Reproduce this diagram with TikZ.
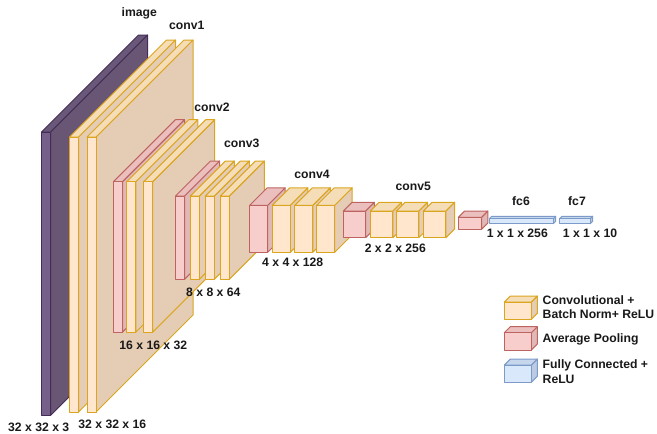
\documentclass[tikz,border=0pt]{standalone}
\usepackage{fontspec}
\setmainfont{Liberation Sans}
\definecolor{convfront}{HTML}{FFE6CC}
\definecolor{convtop}{HTML}{F5DDB8}
\definecolor{convside}{HTML}{E5CDB5}
\definecolor{convline}{HTML}{DBA520}
\definecolor{poolfront}{HTML}{F8CECC}
\definecolor{pooltop}{HTML}{EBBFBD}
\definecolor{poolside}{HTML}{E0B8B6}
\definecolor{poolline}{HTML}{BE6460}
\definecolor{fcfront}{HTML}{DAE8FC}
\definecolor{fctop}{HTML}{C6D6EC}
\definecolor{fcside}{HTML}{BCCBE2}
\definecolor{fcline}{HTML}{7C9BC8}
\definecolor{imgfront}{HTML}{76608A}
\definecolor{imgtop}{HTML}{6A5878}
\definecolor{imgside}{HTML}{685674}
\definecolor{imgline}{HTML}{432D57}
\tikzset{
    size/.style={font=\bfseries\fontsize{12.2}{14}\selectfont, text=black!90, inner sep=0pt},
    legend/.style={font=\bfseries\fontsize{12.2}{14.6}\selectfont, text=black!90, inner sep=0pt, anchor=west, align=left},
}
% #1 colour prefix, #2 left, #3 top, #4 width, #5 height, #6 depth
\newcommand{\layerbox}[6]{
    \draw[#1line, fill=#1side, line width=1pt, line join=round]
        (#2+#4,#3) -- ++(#6,-#6) -- ++(0,#5) -- ++(-#6,#6) -- cycle;
    \draw[#1line, fill=#1top, line width=1pt, line join=round]
        (#2,#3) -- ++(#6,-#6) -- ++(#4,0) -- ++(-#6,#6) -- cycle;
    \draw[#1line, fill=#1front, line width=1pt, line join=round]
        (#2,#3) rectangle ++(#4,#5);
}
\begin{document}
\begin{tikzpicture}[x=1pt, y=-1pt]
    \useasboundingbox (0,0) rectangle (657,434);

    \layerbox{img}{41.5}{132}{9}{283.5}{97}
    \foreach \xpos in {69.5, 87} {
        \layerbox{conv}{\xpos}{137}{9}{275}{97}
    }

    \layerbox{pool}{113.5}{181.7}{9}{150.5}{62}
    \foreach \xpos in {126.8, 143.7} {
        \layerbox{conv}{\xpos}{181.7}{9}{150.5}{62}
    }

    \layerbox{pool}{175.5}{196}{9}{83.3}{35}
    \foreach \xpos in {190.4, 205.4, 220.4} {
        \layerbox{conv}{\xpos}{196}{9}{83.3}{35}
    }

    \layerbox{pool}{249.7}{205.3}{18}{47}{17.5}
    \foreach \xpos in {272.4, 294.8, 316.7} {
        \layerbox{conv}{\xpos}{205.3}{18}{47}{17.5}
    }

    \layerbox{pool}{343.4}{211}{22.3}{26.7}{8.7}
    \foreach \xpos in {370.4, 396.3, 423.4} {
        \layerbox{conv}{\xpos}{211}{22.5}{26.7}{8.7}
    }

    \layerbox{pool}{458.4}{217.3}{23.2}{12}{6.2}
    \layerbox{fc}{489.3}{218.7}{64}{5}{2.4}
    \layerbox{fc}{559.7}{218.7}{30.5}{5}{2.4}

    \node[size] (image) at (139.3,13) {image};
    \node[size] (conv1) at (186.7,25) {conv1};
    \node[size] (conv2) at (212,107) {conv2};
    \node[size] (conv3) at (241.7,143) {conv3};
    \node[size] (conv4) at (312,174) {conv4};
    \node[size] (conv5) at (413.3,186) {conv5};
    \node[size] (fc6) at (521,200.7) {fc6};
    \node[size] (fc7) at (577,200.7) {fc7};

    \node[size] (dim1) at (38.7,427.5) {32 x 32 x 3};
    \node[size] (dim2) at (112.3,424.7) {32 x 32 x 16};
    \node[size] (dim3) at (153.3,345.7) {16 x 16 x 32};
    \node[size] (dim4) at (213.3,292.7) {8 x 8 x 64};
    \node[size] (dim5) at (292.7,262) {4 x 4 x 128};
    \node[size] (dim6) at (395.3,248.7) {2 x 2 x 256};
    \node[size] (dim7) at (517.3,233.7) {1 x 1 x 256};
    \node[size] (dim8) at (590,233.7) {1 x 1 x 10};

    \layerbox{conv}{504.3}{302}{27}{17.3}{6}
    \layerbox{pool}{504.3}{332.7}{27}{17.3}{6}
    \layerbox{fc}{504.3}{365}{27}{17.3}{6}

    \node[legend] (lconv) at (542.5,307) {Convolutional +\\Batch Norm+ ReLU};
    \node[legend] (lpool) at (542.5,339) {Average Pooling};
    \node[legend] (lfc) at (542.5,371.5) {Fully Connected +\\ReLU};
\end{tikzpicture}
\end{document}
